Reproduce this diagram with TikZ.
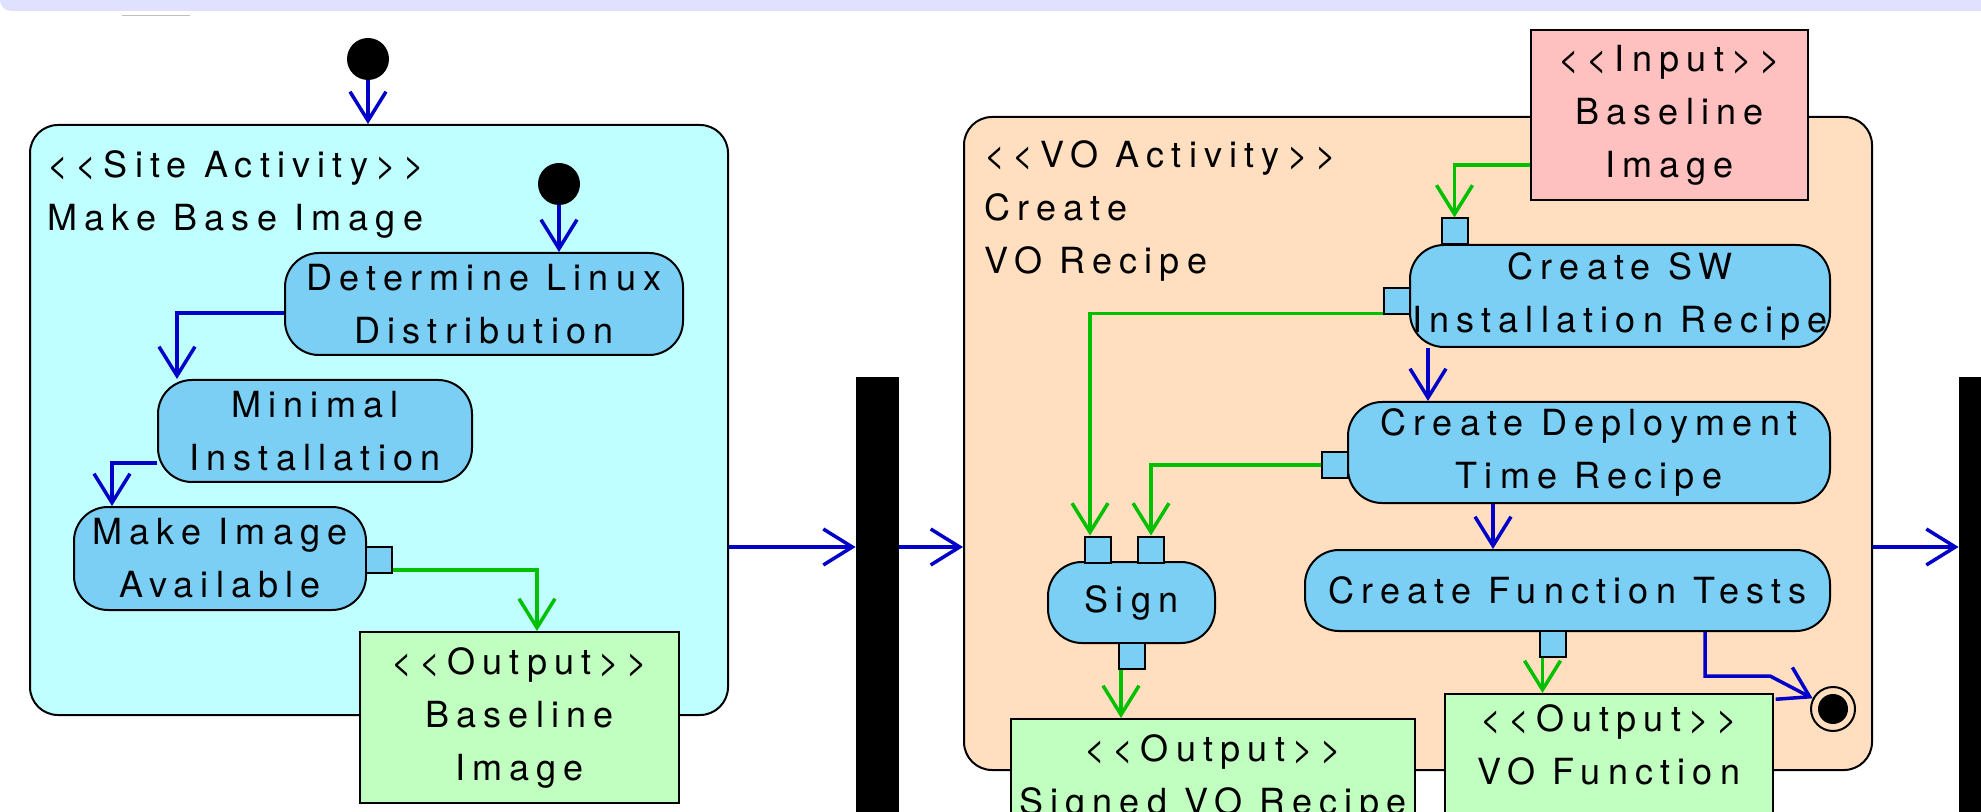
\documentclass[tikz,border=0pt]{standalone}
\usepackage{fontspec}
\setmainfont{TeX Gyre Heros}
\newfontfamily\umlfont[LetterSpace=20, Ligatures=TeXOff]{TeX Gyre Heros}
\usetikzlibrary{arrows.meta}
\definecolor{flowB}{HTML}{0000C8}
\definecolor{objG}{HTML}{00C000}
\definecolor{siteC}{HTML}{BFFFFF}
\definecolor{voP}{HTML}{FFDFC0}
\definecolor{actB}{HTML}{7BCFF4}
\definecolor{outG}{HTML}{C0FFC0}
\definecolor{inR}{HTML}{FFC0C0}
\definecolor{bandL}{HTML}{E0E0FF}

\begin{document}
\begin{tikzpicture}[x=0.5pt, y=-0.5pt,
  font=\umlfont\fontsize{18}{26.5}\selectfont,
  activity/.style={draw, line width=1pt, rounded corners=14pt, inner sep=0pt},
  title/.style={align=left, inner sep=0pt, anchor=north west},
  action/.style={draw, line width=1pt, fill=actB, rounded corners=17pt, align=center, inner sep=0pt},
  objbox/.style={draw, line width=1pt, align=center, inner sep=0pt},
  pinbox/.style={draw, line width=1pt, fill=actB, minimum size=13pt, inner sep=0pt},
  startdot/.style={circle, fill=black, minimum size=21pt, inner sep=0pt},
  enddot/.style={circle, draw, line width=1pt, minimum size=22pt, inner sep=0pt,
    path picture={\fill (path picture bounding box.center) circle (7.5pt);}},
  syncbar/.style={fill=black, inner sep=0pt},
  flow/.style={flowB, line width=1.75pt, -{Straight Barb[length=14.5pt, width=18pt]}},
  objflow/.style={objG, line width=1.75pt, -{Straight Barb[length=14.5pt, width=18pt]}}]

  \path[use as bounding box, clip] (0,0) rectangle (1981,812);

  % window strip
  \fill[bandL] (2000,-20) -- (2000,11) [rounded corners=5.5pt] -- (0,11) [sharp corners] -- (0,-20) -- cycle;
  \draw[gray!50, line width=0.5pt] (122,16) -- (190,16);

  % site activity
  \node[activity, fill=siteC, minimum width=349pt, minimum height=295pt] (act1) at (379,420) {};
  \node[title] (t1) at ([xshift=9pt, yshift=-13pt]act1.north west) {<<Site Activity>>\\Make Base Image};
  \node[startdot] (init1) at (368,59) {};
  \node[startdot] (init2) at (559,184) {};
  \node[action, minimum width=199pt, minimum height=51pt] (det) at (484,304) {Determine Linux\\Distribution};
  \node[action, minimum width=157pt, minimum height=51pt] (mini) at (315,431) {Minimal\\Installation};
  \node[action, minimum width=146pt, minimum height=51.5pt] (avail) at (220,558.5) {Make Image\\Available};
  \node[objbox, fill=outG, minimum width=159.5pt, minimum height=85.5pt] (out1) at (519.5,717.5) {<<Output>>\\Baseline\\Image};

  % fork bars
  \node[syncbar, minimum width=21.5pt, minimum height=236.5pt] (bar1) at (877.5,613.5) {};
  \node[syncbar, minimum width=25.5pt, minimum height=236.5pt] (bar2) at (1984.5,613.5) {};

  % VO activity
  \node[activity, fill=voP, minimum width=454pt, minimum height=326.5pt] (act2) at (1418,443.5) {};
  \node[title] (t2) at ([xshift=10.5pt, yshift=-12pt]act2.north west) {<<VO Activity>>\\Create\\VO Recipe};
  \node[objbox, fill=inR, minimum width=138.5pt, minimum height=85pt] (inbox) at (1669.5,115) {<<Input>>\\Baseline\\Image};
  \node[action, minimum width=210pt, minimum height=51pt] (sw) at (1620,296) {Create SW\\Installation Recipe};
  \node[action, minimum width=241pt, minimum height=50.5pt] (dep) at (1589,452.5) {Create Deployment\\Time Recipe};
  \node[action, minimum width=262.5pt, minimum height=40.5pt] (func) at (1567.5,590.5) {Create Function Tests};
  \node[action, minimum width=83.5pt, minimum height=40.5pt] (sign) at (1131.5,602.5) {Sign};
  \node[objbox, fill=outG, minimum width=202pt, minimum height=59.5pt] (out2) at (1213,778.5) {<<Output>>\\Signed VO Recipe};
  \node[objbox, fill=outG, minimum width=164pt, minimum height=85pt] (out3) at (1609,779) {<<Output>>\\VO Function\\\strut};
  \node[enddot] (final) at (1833,709) {};

  % pins
  \foreach \n/\x/\y in {
    availpin/379/560,
    swpinT/1454.5/231.5,
    swpinL/1397/301.5,
    deppin/1334.5/465,
    signpinA/1098/549.5,
    signpinB/1151/549.5,
    signpinC/1132/656,
    funcpin/1552.5/643.5}{
    \node[pinbox] (\n) at (\x,\y) {};
  }

  % control flow
  \coordinate (row) at (0,547);
  \draw[flow] (init1) -- (init1 |- act1.north);
  \draw[flow] (init2) -- (init2 |- det.north);
  \draw[flow] ([yshift=-4.5pt]det.west) -| ([xshift=10pt]mini.north west);
  \draw[flow] ([yshift=10pt]mini.south west) -| ([xshift=19.5pt]avail.north west);
  \draw[flow] (act1.east |- row) -- (bar1.west |- row);
  \draw[flow] (bar1.east |- row) -- (act2.west |- row);
  \draw[flow] (act2.east |- row) -- (bar2.west |- row);
  \draw[flow] ([xshift=9.5pt]sw.south west) -- ([xshift=9.5pt]sw.south west |- dep.north);
  \draw[flow] ([xshift=-48pt]dep.south) -- ([xshift=-48pt]dep.south |- func.north);
  \draw[flow] ([xshift=68.75pt]func.south) -- ++(0,44) -- ++(65,0) -- (final);

  % object flow
  \draw[objflow] ([yshift=2pt]availpin.south east) -| ([xshift=8.75pt]out1.north);
  \draw[objflow] ([yshift=-25pt]inbox.west) -| (swpinT.north);
  \draw[objflow] ([yshift=1pt]swpinL.south west) -| ([xshift=-4pt]signpinA.north);
  \draw[objflow] (deppin.west) -| (signpinB.north);
  \draw[objflow] ([xshift=-5.5pt]signpinC.south) -- ([xshift=-5.5pt]signpinC.south |- out2.north);
  \draw[objflow] ([xshift=-5pt]funcpin.south) -- ([xshift=-5pt]funcpin.south |- out3.north);
\end{tikzpicture}
\end{document}
